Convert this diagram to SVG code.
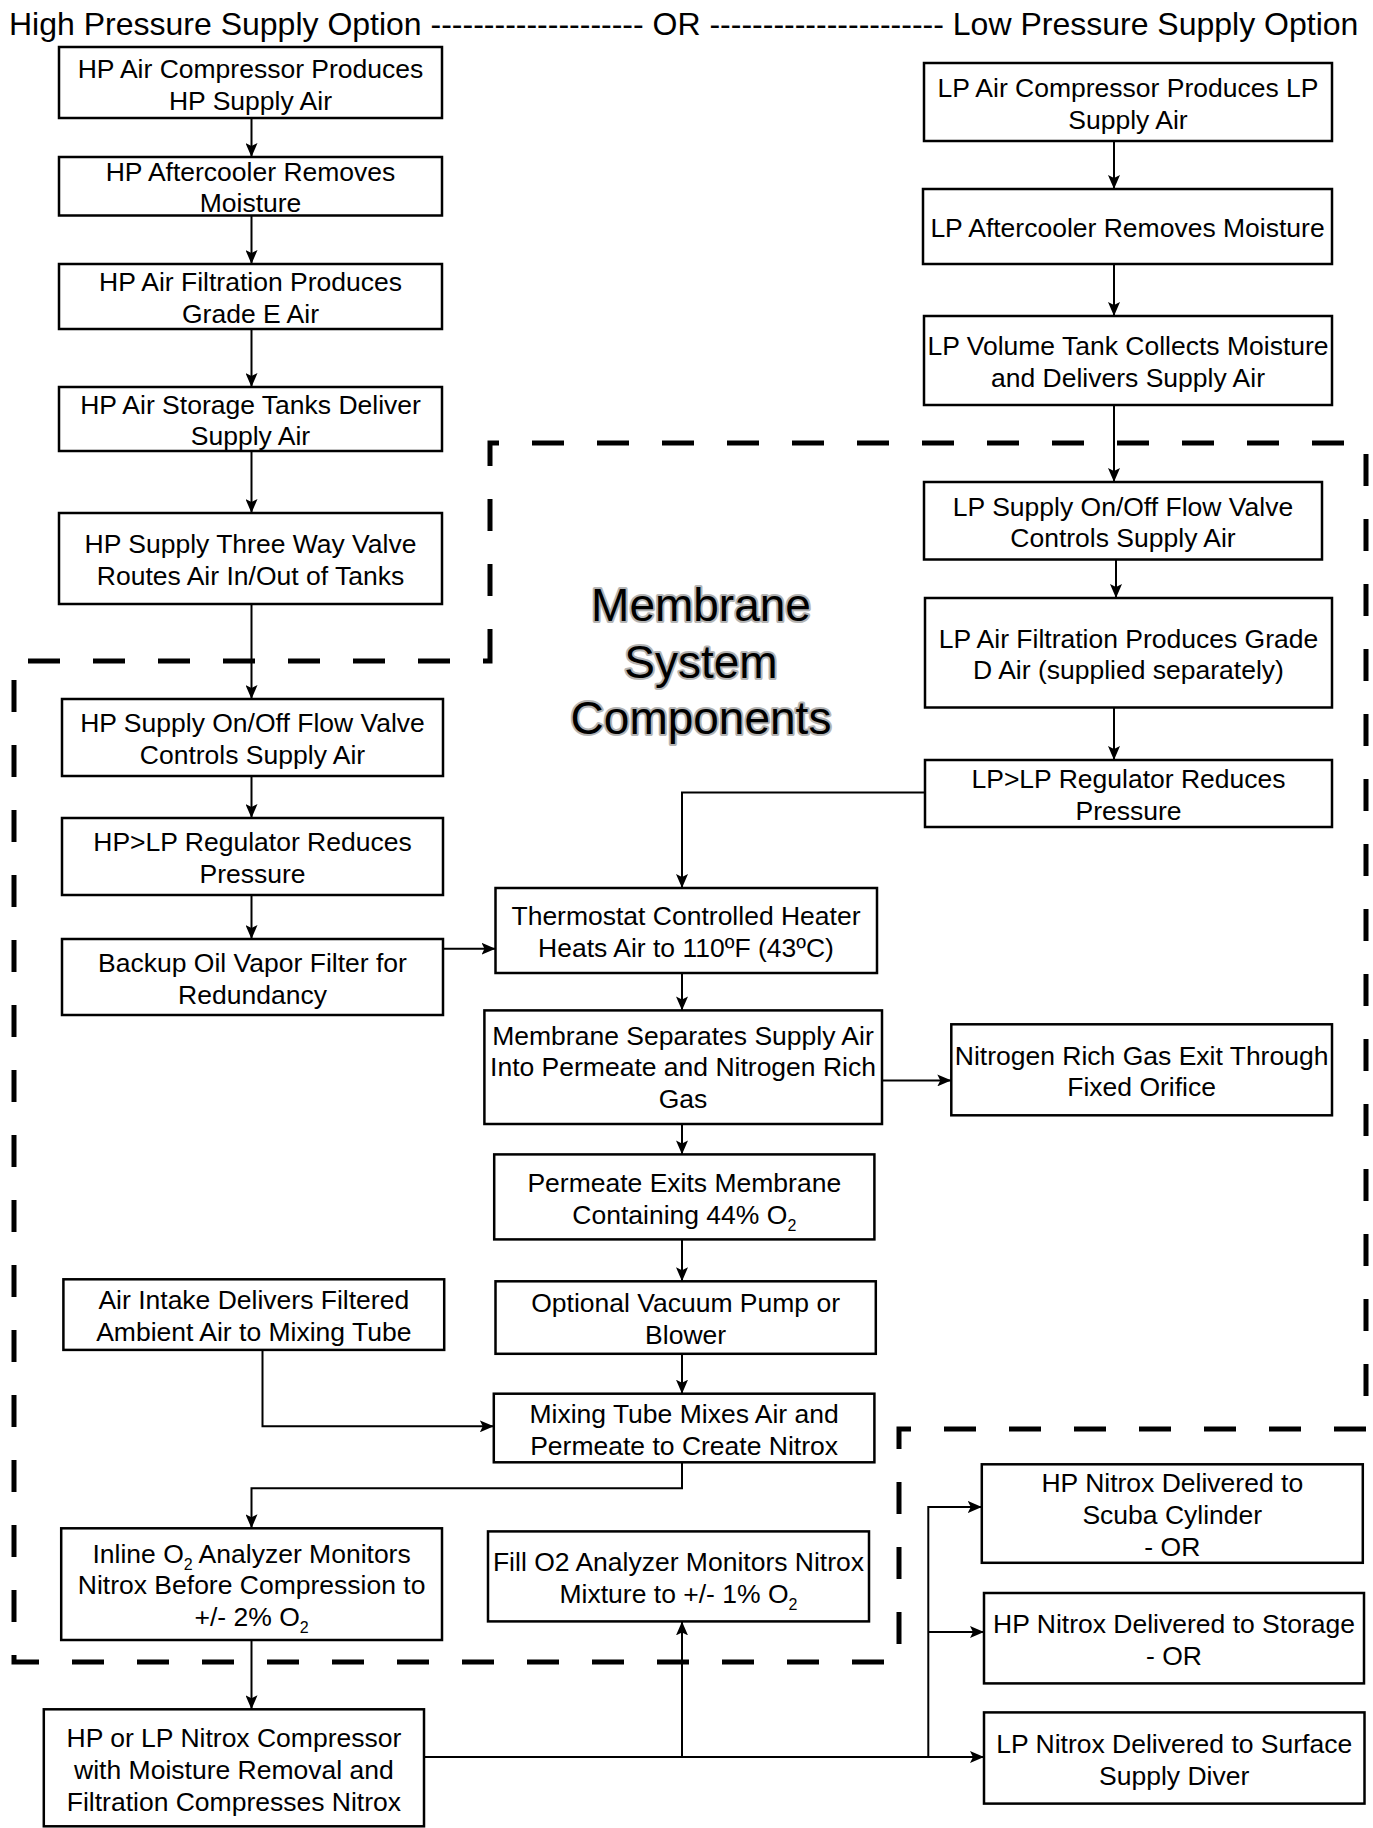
<svg xmlns="http://www.w3.org/2000/svg" width="1373" height="1828" viewBox="0 0 1373 1828">
<defs>
<style>
.box{fill:#fff;stroke:#000;stroke-width:2.5}
.t{font-family:"Liberation Sans",Arial,sans-serif;font-size:26.5px;text-anchor:middle;fill:#000}
.sub{font-size:16px}
.c{fill:none;stroke:#000;stroke-width:2;marker-end:url(#ah)}
.ln{fill:none;stroke:#000;stroke-width:2}
.region{fill:none;stroke:#000;stroke-width:5;stroke-dasharray:32 33}
.title{font-family:"Liberation Sans",Arial,sans-serif;font-size:32px;fill:#000}
.big{font-family:"Liberation Sans",Arial,sans-serif;font-size:46px;text-anchor:middle;fill:#000;stroke:#b4b4b4;stroke-width:4;paint-order:stroke fill;stroke-linejoin:round}
</style>
<marker id="ah" markerUnits="userSpaceOnUse" markerWidth="14" markerHeight="12" viewBox="0 0 14 12" refX="14" refY="6" orient="auto">
<path d="M0,0 L14,6 L0,12 L3,6 Z" fill="#000"/>
</marker>
</defs>
<rect x="0" y="0" width="1373" height="1828" fill="#fff"/>

<text class="title" x="9" y="35">High Pressure Supply Option -------------------- OR ---------------------- Low Pressure Supply Option</text>

<g id="region">
<path class="region" d="M490,661 V443 H1366 V1429 H899 V1662 H14 V661 Z"/>
<text class="big" x="701" y="621">Membrane</text>
<text class="big" x="701" y="678">System</text>
<text class="big" x="701" y="734">Components</text>
</g>

<g id="connectors">
<path class="c" d="M251.5,118 V157"/>
<path class="c" d="M251.5,215.5 V264"/>
<path class="c" d="M251.5,329 V387"/>
<path class="c" d="M251.5,451 V513"/>
<path class="c" d="M251.5,604 V699"/>
<path class="c" d="M251.5,776 V818"/>
<path class="c" d="M251.5,895 V939"/>
<path class="c" d="M1114,141 V189"/>
<path class="c" d="M1114,264 V316"/>
<path class="c" d="M1114,405 V482"/>
<path class="c" d="M1116,559.5 V598"/>
<path class="c" d="M1114,707.5 V760"/>
<path class="c" d="M925,792.6 H682 V888"/>
<path class="c" d="M443,948.7 H495.5"/>
<path class="c" d="M682,973 V1010.4"/>
<path class="c" d="M882,1080.4 H951.3"/>
<path class="c" d="M682,1124 V1154.4"/>
<path class="c" d="M682,1239.4 V1281.3"/>
<path class="c" d="M682,1354 V1393.7"/>
<path class="c" d="M262.5,1350 V1426.3 H493.8"/>
<path class="c" d="M682,1462.3 V1488.3 H251.5 V1528.3"/>
<path class="c" d="M251.5,1640 V1709.3"/>
<path class="c" d="M424,1757 H984"/>
<path class="c" d="M682,1757 V1621.4"/>
<path class="c" d="M928.3,1757 V1507 H981.8"/>
<path class="c" d="M928.3,1632 H984"/>
</g>

<g id="hp1"><rect class="box" x="59" y="47" width="383" height="71"/>
<text class="t" x="250.5" y="77.8">HP Air Compressor Produces</text>
<text class="t" x="250.5" y="109.6">HP Supply Air</text></g>

<g id="hp2"><rect class="box" x="59" y="157" width="383" height="58.5"/>
<text class="t" x="250.5" y="180.5">HP Aftercooler Removes</text>
<text class="t" x="250.5" y="212">Moisture</text></g>

<g id="hp3"><rect class="box" x="59" y="264" width="383" height="65"/>
<text class="t" x="250.5" y="291">HP Air Filtration Produces</text>
<text class="t" x="250.5" y="322.5">Grade E Air</text></g>

<g id="hp4"><rect class="box" x="59" y="387" width="383" height="64"/>
<text class="t" x="250.5" y="413.5">HP Air Storage Tanks Deliver</text>
<text class="t" x="250.5" y="445">Supply Air</text></g>

<g id="hp5"><rect class="box" x="59" y="513" width="383" height="91"/>
<text class="t" x="250.5" y="553">HP Supply Three Way Valve</text>
<text class="t" x="250.5" y="584.6">Routes Air In/Out of Tanks</text></g>

<g id="hp6"><rect class="box" x="62" y="699" width="381" height="77"/>
<text class="t" x="252.5" y="732.3">HP Supply On/Off Flow Valve</text>
<text class="t" x="252.5" y="764.1">Controls Supply Air</text></g>

<g id="hp7"><rect class="box" x="62" y="818" width="381" height="77"/>
<text class="t" x="252.5" y="851.3">HP&gt;LP Regulator Reduces</text>
<text class="t" x="252.5" y="883.1">Pressure</text></g>

<g id="hp8"><rect class="box" x="62" y="939" width="381" height="76"/>
<text class="t" x="252.5" y="971.8">Backup Oil Vapor Filter for</text>
<text class="t" x="252.5" y="1003.6">Redundancy</text></g>

<g id="lp1"><rect class="box" x="924" y="63" width="408" height="78"/>
<text class="t" x="1128" y="96.8">LP Air Compressor Produces LP</text>
<text class="t" x="1128" y="128.6">Supply Air</text></g>

<g id="lp2"><rect class="box" x="923" y="189" width="409" height="75"/>
<text class="t" x="1127.5" y="237.2">LP Aftercooler Removes Moisture</text></g>

<g id="lp3"><rect class="box" x="924" y="316" width="408" height="89"/>
<text class="t" x="1128" y="355.3">LP Volume Tank Collects Moisture</text>
<text class="t" x="1128" y="387.1">and Delivers Supply Air</text></g>

<g id="lp4"><rect class="box" x="924" y="482" width="398" height="77.5"/>
<text class="t" x="1123" y="515.5">LP Supply On/Off Flow Valve</text>
<text class="t" x="1123" y="547.3">Controls Supply Air</text></g>

<g id="lp5"><rect class="box" x="925" y="598" width="407" height="109.5"/>
<text class="t" x="1128.5" y="647.6">LP Air Filtration Produces Grade</text>
<text class="t" x="1128.5" y="679.4">D Air (supplied separately)</text></g>

<g id="lp6"><rect class="box" x="925" y="760" width="407" height="67"/>
<text class="t" x="1128.5" y="788.3">LP&gt;LP Regulator Reduces</text>
<text class="t" x="1128.5" y="820.1">Pressure</text></g>

<g id="therm"><rect class="box" x="495.5" y="888" width="381.5" height="85"/>
<text class="t" x="686" y="925.3">Thermostat Controlled Heater</text>
<text class="t" x="686" y="957.1">Heats Air to 110ºF (43ºC)</text></g>

<g id="memb"><rect class="box" x="484.4" y="1010.4" width="397.6" height="113.6"/>
<text class="t" x="683" y="1044.5">Membrane Separates Supply Air</text>
<text class="t" x="683" y="1076.3">Into Permeate and Nitrogen Rich</text>
<text class="t" x="683" y="1108.1">Gas</text></g>

<g id="nitro"><rect class="box" x="951.3" y="1024.3" width="380.7" height="91"/>
<text class="t" x="1141.6" y="1064.6">Nitrogen Rich Gas Exit Through</text>
<text class="t" x="1141.6" y="1096.4">Fixed Orifice</text></g>

<g id="perm"><rect class="box" x="494.2" y="1154.4" width="380.2" height="85"/>
<text class="t" x="684.3" y="1191.8">Permeate Exits Membrane</text>
<text class="t" x="684.3" y="1223.6">Containing 44% O<tspan class="sub" dy="7">2</tspan></text></g>

<g id="opt"><rect class="box" x="495.5" y="1281.3" width="380.3" height="72.5"/>
<text class="t" x="685.6" y="1312.3">Optional Vacuum Pump or</text>
<text class="t" x="685.6" y="1344.1">Blower</text></g>

<g id="mix"><rect class="box" x="493.8" y="1393.7" width="380.6" height="68.6"/>
<text class="t" x="684.1" y="1422.8">Mixing Tube Mixes Air and</text>
<text class="t" x="684.1" y="1454.6">Permeate to Create Nitrox</text></g>

<g id="air"><rect class="box" x="63.4" y="1279.3" width="380.8" height="70.6"/>
<text class="t" x="253.8" y="1309.4">Air Intake Delivers Filtered</text>
<text class="t" x="253.8" y="1341.2">Ambient Air to Mixing Tube</text></g>

<g id="inline"><rect class="box" x="61.2" y="1528.3" width="380.8" height="111.7"/>
<text class="t" x="251.6" y="1562.6">Inline O<tspan class="sub" dy="7">2</tspan><tspan dy="-7"> Analyzer Monitors</tspan></text>
<text class="t" x="251.6" y="1594.4">Nitrox Before Compression to</text>
<text class="t" x="251.6" y="1626.2">+/- 2% O<tspan class="sub" dy="7">2</tspan></text></g>

<g id="fill"><rect class="box" x="488" y="1531.4" width="381" height="90"/>
<text class="t" x="678.5" y="1571.2">Fill O2 Analyzer Monitors Nitrox</text>
<text class="t" x="678.5" y="1603">Mixture to +/- 1% O<tspan class="sub" dy="7">2</tspan></text></g>

<g id="comp"><rect class="box" x="43.8" y="1709.3" width="380.2" height="117"/>
<text class="t" x="233.9" y="1747">HP or LP Nitrox Compressor</text>
<text class="t" x="233.9" y="1778.8">with Moisture Removal and</text>
<text class="t" x="233.9" y="1810.6">Filtration Compresses Nitrox</text></g>

<g id="scuba"><rect class="box" x="981.8" y="1464.3" width="381" height="98.5"/>
<text class="t" x="1172.3" y="1492.4">HP Nitrox Delivered to</text>
<text class="t" x="1172.3" y="1524.2">Scuba Cylinder</text>
<text class="t" x="1172.3" y="1556">- OR</text></g>

<g id="storage"><rect class="box" x="984" y="1593" width="380" height="90.4"/>
<text class="t" x="1174" y="1633">HP Nitrox Delivered to Storage</text>
<text class="t" x="1174" y="1664.8">- OR</text></g>

<g id="surface"><rect class="box" x="984" y="1712.4" width="380.5" height="91.2"/>
<text class="t" x="1174.2" y="1752.8">LP Nitrox Delivered to Surface</text>
<text class="t" x="1174.2" y="1784.6">Supply Diver</text></g>
</svg>
